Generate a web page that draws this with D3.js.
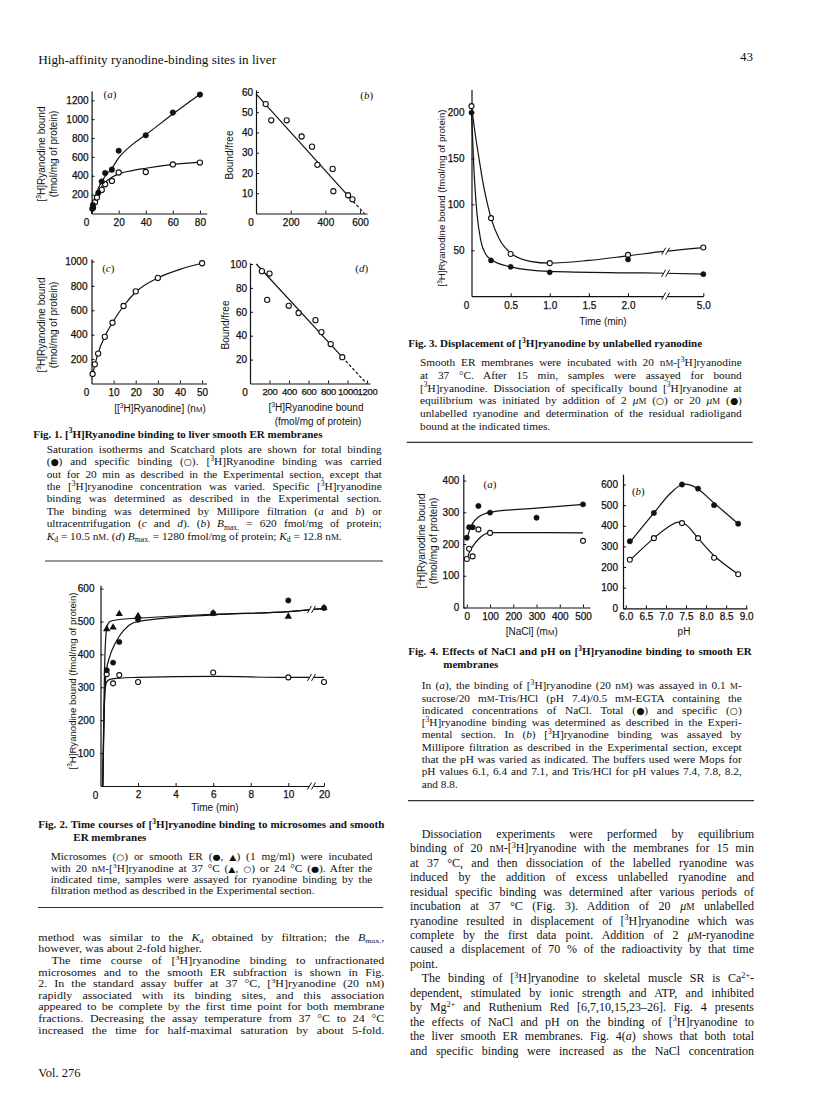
<!DOCTYPE html>
<html>
<head>
<meta charset="utf-8">
<title>High-affinity ryanodine-binding sites in liver</title>
<script src="https://cdn.jsdelivr.net/npm/d3@7"></script>
<style>
  body { margin: 0; background: #fff; }
  svg { display: block; }
</style>
</head>
<body>
<svg id="page" width="816" height="1108"></svg>
<script>
// values, p. 43

// Fig. 1(a) saturation (filtration): [3H]ryanodine nM -> fmol/mg
var f1aTotal = [[0.5,50],[1,90],[5,220],[7.5,340],[10,430],[15,465],[20,665],[40,830],[60,1070],[80,1260]];
var f1aSpecific = [[1,60],[2.5,120],[4,170],[7.5,250],[10,310],[15,345],[20,435],[40,440],[60,520],[80,540]];
var f1aTotalFit = [[0,0],[1,80],[3,190],[6,300],[10,395],[15,480],[20,590],[30,730],[40,835],[60,1055],[80,1265]];
var f1aSpecificFit = [[0,0],[1,60],[3,150],[6,250],[10,330],[15,385],[20,420],[30,455],[40,480],[60,520],[80,545]];
// Fig. 1(b) Scatchard: bound -> bound/free
var f1bPoints = [[56,54],[88,46],[177,46],[263,38],[323,33],[354,24],[442,22],[446,11],[531,9],[556,7]];
var f1bLine = [[0,59],[560,6]];
var f1bExtrap = [[560,6],[625,0]];
// Fig. 1(c) saturation (ultracentrifugation)
var f1cPoints = [[0.5,78],[1.5,157],[3,245],[6,382],[9.5,498],[14.5,635],[20,755],[30,865],[50,985]];
var f1cFit = [[0.5,70],[1.5,150],[3,250],[6,385],[9.5,500],[14.5,635],[20,750],[30,865],[40,935],[50,985]];
// Fig. 1(d) Scatchard
var f1dPoints = [[122,94],[200,92],[176,70],[397,65],[498,59],[671,53],[732,43],[827,33],[946,22]];
var f1dLine = [[65,100],[946,22]];
var f1dExtrap = [[946,22],[1195,0]];

// Fig. 2 time course (min)
var f2Time = [0.33, 0.67, 1, 2, 6, 10, 20];
var f2ErCold = [352, 375, 438, 505, 525, 564, 541];       // smooth ER, 24 C (filled)
var f2ErWarm = [477, 482, 523, 517, 525, 515, 541];       // smooth ER, 37 C (triangle)
var f2Microsomes = [340, 312, 337, 316, 345, 330, 316];   // microsomes, 37 C (open)
var f2ColdFit = [[0.12,0],[0.2,230],[0.3,345],[0.5,395],[0.75,430],[1,455],[1.5,488],[2,500],[6,520],[10,530],[20,540]];
var f2WarmFit = [[0.12,0],[0.18,240],[0.25,420],[0.35,485],[0.5,500],[1,506],[2,510],[6,522],[10,530],[20,540]];
var f2MicroFit = [[0.12,0],[0.17,170],[0.23,280],[0.32,315],[0.5,324],[1,328],[2,330],[6,333],[10,330],[20,330]];
var f2Break = 16.5;

// Fig. 3 displacement
var f3Time = [0, 0.25, 0.5, 1, 2, 5];
var f3Low = [207, 85, 46, 36, 45, 53];    // 2 uM (open)
var f3High = [200, 39, 32, 26, 40, 24];   // 20 uM (filled)
var f3LowFit = [[0,207],[0.05,175],[0.1,148],[0.15,122],[0.2,102],[0.25,85],[0.35,63],[0.5,47],[0.75,38],[1,36],[1.5,39],[2,44],[3.5,49],[5,53]];
var f3HighFit = [[0,200],[0.03,140],[0.07,90],[0.12,60],[0.18,46],[0.25,40],[0.5,32],[1,27],[2,25.5],[3.5,25],[5,24]];
var f3Break = 3.5;

// Fig. 4(a) NaCl (mM)
var f4aTotal = [[0,220],[10,253],[25,253],[50,320],[100,299],[300,283],[500,325]];
var f4aSpecific = [[0,153],[10,185],[25,161],[50,246],[100,235],[500,210]];
var f4aTotalFit = [[0,212],[10,240],[25,265],[50,285],[100,300],[300,313],[500,325]];
var f4aSpecificFit = [[0,150],[10,172],[25,192],[50,215],[100,236],[300,236],[500,235]];
// Fig. 4(b) pH
var f4bPh = [6.1, 6.7, 7.4, 7.8, 8.2, 8.8];
var f4bTotal = [325, 462, 600, 580, 500, 410];
var f4bSpecific = [235, 340, 413, 340, 245, 165];
var f4bTotalFit = [[6.1,320],[6.7,462],[7.1,555],[7.4,600],[7.6,598],[7.8,578],[8.2,510],[8.8,410]];
var f4bSpecificFit = [[6.1,232],[6.7,340],[7.1,400],[7.3,418],[7.5,405],[7.8,340],[8.2,255],[8.8,165]];

var SANS = '"Liberation Sans", Arial, Helvetica, sans-serif';
var SERIF = '"Liberation Serif", "Times New Roman", Times, serif';
var SYMBOL = '"DejaVu Sans", sans-serif';
var INK = '#111';

var svg = d3.select('#page');

// tiny markup: ^{sup} _{sub} /{italic} ${small cap}; key symbols get their own font
function rich(t, str, size) {
  str = str.replace(/([\u25CF\u25CB\u25B2])/g, '#{$1}');
  var re = /([\^_\/\$#])\{([^}]*)\}/g, last = 0, m, parts = [], shift = 0;
  while ((m = re.exec(str)) !== null) {
    if (m.index > last) parts.push({t: str.slice(last, m.index), k: ''});
    parts.push({t: m[2], k: m[1]});
    last = re.lastIndex;
  }
  if (last < str.length) parts.push({t: str.slice(last), k: ''});
  parts.forEach(function(p) {
    var want = p.k == '^' ? -0.38 * size : (p.k == '_' ? 0.22 * size : 0);
    var ts = t.append('tspan').text(p.t);
    if (want != shift) { ts.attr('dy', want - shift); shift = want; }
    if (p.k == '^' || p.k == '_') ts.attr('font-size', size * 0.68);
    if (p.k == '$') ts.attr('font-size', size * 0.78);
    if (p.k == '/') ts.attr('font-style', 'italic');
    if (p.k == '#') ts.attr('font-family', SYMBOL).attr('font-size', size * 0.82);
  });
  return parts.map(function(p) { return p.t; }).join('');
}

function label(g, x, y, str, o) {
  o = o || {};
  var size = o.size || 10;
  var t = g.append('text')
      .attr('font-family', o.serif ? SERIF : SANS)
      .attr('font-size', size)
      .attr('text-anchor', o.anchor || 'middle')
      .attr('fill', INK);
  if (o.rotate) {
    t.attr('transform', 'translate(' + x + ',' + y + ') rotate(-90)').attr('dy', '0.35em');
  } else {
    t.attr('x', x).attr('y', y);
  }
  rich(t, str, size);
  return t;
}

// justified block of text, one <text> per printed line
// sy squashes glyphs vertically where the scan is squashed
function textBlock(b) {
  var sy = b.sy || 1;
  var g = svg.append('g')
      .attr('font-family', SERIF)
      .attr('font-size', b.size)
      .attr('font-weight', b.bold ? 'bold' : null)
      .attr('fill', INK);
  b.lines.forEach(function(line, i) {
    var indent = 0, just = true;
    if (line.charAt(0) == '>') { indent = b.indent; line = line.slice(1); }
    if (line.slice(-1) == '|') { just = false; line = line.slice(0, -1); }
    var t = g.append('text')
        .attr('transform', 'translate(' + (b.x + indent) + ',' + (b.y + i * b.lh) + ') scale(1,' + sy + ')');
    var plain = rich(t, line, b.size);
    if (just && b.width) {
      var spaces = plain.split(' ').length - 1;
      var w = b.width - indent;
      var ws = (w - t.node().getComputedTextLength()) / Math.max(spaces, 1);
      if (ws < -1.5) t.attr('textLength', w).attr('lengthAdjust', 'spacingAndGlyphs');
      else t.attr('word-spacing', ws);
    }
  });
}

function rule(x1, x2, y) {
  svg.append('line').attr('x1', x1).attr('x2', x2).attr('y1', y).attr('y2', y)
      .attr('stroke', '#333').attr('stroke-width', 1.2);
}

function drawAxes(g, x, y, o) {
  var xa = d3.axisBottom(x).tickValues(o.xTicks).tickFormat(o.xFormat || d3.format('d'))
      .tickSize(-3).tickSizeOuter(0).tickPadding(o.xPad || 5);
  var ya = d3.axisLeft(y).tickValues(o.yTicks).tickFormat(d3.format('d'))
      .tickSize(-3).tickSizeOuter(0).tickPadding(o.yPad || 3);
  var gx = g.append('g').attr('transform', 'translate(0,' + y.range()[0] + ')').call(xa);
  var gy = g.append('g').attr('transform', 'translate(' + x.range()[0] + ',0)').call(ya);
  [gx, gy].forEach(function(a) {
    a.attr('font-family', SANS).attr('font-size', 10);
    a.select('.domain').attr('stroke', INK).attr('stroke-width', 1.2);
    a.selectAll('.tick line').attr('stroke', INK);
    a.selectAll('.tick text').attr('fill', INK).attr('stroke', INK).attr('stroke-width', 0.25);
  });
  if (o.xFont) gx.attr('font-size', o.xFont).attr('letter-spacing', -0.3);
  if (o.zero) {
    g.append('text').attr('x', x.range()[0] - 5).attr('y', y.range()[0] + 12.5)
        .attr('text-anchor', 'middle').attr('font-family', SANS).attr('font-size', 10)
        .attr('fill', INK).attr('stroke', INK).attr('stroke-width', 0.25).text('0');
  }
}

function fitLine(g, x, y, pts, o) {
  o = o || {};
  g.append('path').datum(pts)
      .attr('d', d3.line()
        .x(function(d) { return x(d[0]); })
        .y(function(d) { return y(d[1]); })
        .curve(o.curve || d3.curveMonotoneX))
      .attr('fill', 'none').attr('stroke', INK).attr('stroke-width', 1.2)
      .attr('stroke-dasharray', o.dash || null);
}

function marks(g, x, y, pts, kind, r) {
  var sel = g.selectAll(null).data(pts).enter();
  if (kind == 'tri') {
    sel.append('path')
        .attr('d', d3.symbol(d3.symbolTriangle, r * r * 3.2))
        .attr('transform', function(d) { return 'translate(' + x(d[0]) + ',' + y(d[1]) + ')'; })
        .attr('fill', INK);
  } else {
    sel.append('circle')
        .attr('cx', function(d) { return x(d[0]); })
        .attr('cy', function(d) { return y(d[1]); })
        .attr('r', r)
        .attr('fill', kind == 'open' ? '#fff' : INK)
        .attr('stroke', INK).attr('stroke-width', kind == 'open' ? 1.1 : 0.4);
  }
}

// linear read of a fit curve, used to sit the // marks on it
function yAt(pts, t) {
  for (var i = 1; i < pts.length; i++) {
    if (t <= pts[i][0]) {
      var a = pts[i - 1], b = pts[i];
      return a[1] + (b[1] - a[1]) * (t - a[0]) / (b[0] - a[0]);
    }
  }
  return pts[pts.length - 1][1];
}

function breakMark(g, cx, cy) {
  g.append('rect').attr('x', cx - 2.5).attr('y', cy - 4).attr('width', 5).attr('height', 8).attr('fill', '#fff');
  [-2, 2].forEach(function(o) {
    g.append('line')
        .attr('x1', cx + o - 2).attr('y1', cy + 3.5).attr('x2', cx + o + 2).attr('y2', cy - 3.5)
        .attr('stroke', INK).attr('stroke-width', 1);
  });
}

function panelTag(g, x, y, letter) {
  label(g, x, y, '(/{' + letter + '})', {serif: true, size: 11});
}

// ---------- page furniture ----------
label(svg, 38.3, 64, 'High-affinity ryanodine-binding sites in liver', {serif: true, size: 13.2, anchor: 'start'});
label(svg, 753, 61, '43', {serif: true, size: 13, anchor: 'end'});
label(svg, 38.3, 1076.5, 'Vol. 276', {serif: true, size: 12.5, anchor: 'start'});

// ---------- Fig. 1 ----------
var g1 = svg.append('g');

var x1a = d3.scaleLinear().domain([0, 85]).range([91.6, 206.7]);
var y1a = d3.scaleLinear().domain([0, 1300]).range([213.5, 90.9]);
drawAxes(g1, x1a, y1a, {xTicks: [20, 40, 60, 80], yTicks: d3.range(200, 1201, 200), zero: true});
fitLine(g1, x1a, y1a, f1aTotalFit);
fitLine(g1, x1a, y1a, f1aSpecificFit);
marks(g1, x1a, y1a, f1aSpecific, 'open', 2.6);
marks(g1, x1a, y1a, f1aTotal, 'filled', 2.8);
panelTag(g1, 110, 98, 'a');
label(g1, 41, 154, '[^{3}H]Ryanodine bound', {rotate: true});
label(g1, 53.3, 154, '(fmol/mg of protein)', {rotate: true});

var x1b = d3.scaleLinear().domain([0, 640]).range([256, 367]);
var y1b = d3.scaleLinear().domain([0, 61]).range([213.5, 89.9]);
drawAxes(g1, x1b, y1b, {xTicks: [200, 400, 600], yTicks: d3.range(10, 61, 10), zero: true});
fitLine(g1, x1b, y1b, f1bLine, {curve: d3.curveLinear});
fitLine(g1, x1b, y1b, f1bExtrap, {curve: d3.curveLinear, dash: '3,2'});
marks(g1, x1b, y1b, f1bPoints, 'open', 2.6);
panelTag(g1, 366.7, 99, 'b');
label(g1, 229, 155, 'Bound/free', {rotate: true});

var x1c = d3.scaleLinear().domain([0, 52]).range([91.5, 206.5]);
var y1c = d3.scaleLinear().domain([0, 1020]).range([383.5, 259]);
drawAxes(g1, x1c, y1c, {xTicks: [10, 20, 30, 40, 50], yTicks: d3.range(200, 1001, 200), zero: true, yPad: 4});
fitLine(g1, x1c, y1c, f1cFit);
marks(g1, x1c, y1c, f1cPoints, 'open', 2.6);
panelTag(g1, 108.3, 272, 'c');
label(g1, 41, 325, '[^{3}H]Ryanodine bound', {rotate: true});
label(g1, 53.3, 325, '(fmol/mg of protein)', {rotate: true});
label(g1, 160, 411.5, '[[^{3}H]Ryanodine] (n${M})');

var x1d = d3.scaleLinear().domain([0, 1230]).range([250, 370]);
var y1d = d3.scaleLinear().domain([0, 101]).range([383.5, 262.8]);
drawAxes(g1, x1d, y1d, {xTicks: d3.range(200, 1201, 200), yTicks: d3.range(20, 101, 20), zero: true, xFont: 9.5});
fitLine(g1, x1d, y1d, f1dLine, {curve: d3.curveLinear});
fitLine(g1, x1d, y1d, f1dExtrap, {curve: d3.curveLinear, dash: '3,2'});
marks(g1, x1d, y1d, f1dPoints, 'open', 2.6);
panelTag(g1, 361.7, 272, 'd');
label(g1, 225.7, 325, 'Bound/free', {rotate: true});
label(g1, 316, 411, '[^{3}H]Ryanodine bound');
label(g1, 318, 424.5, '(fmol/mg of protein)');

textBlock({x: 33.3, y: 437.5, size: 11, lh: 12, bold: true, lines: [
  'Fig. 1. [^{3}H]Ryanodine binding to liver smooth ER membranes|'
]});
textBlock({x: 46.7, y: 452.8, width: 335, size: 11.3, lh: 12.4, lines: [
  'Saturation isotherms and Scatchard plots are shown for total binding',
  '(\u25CF) and specific binding (\u25CB). [^{3}H]Ryanodine binding was carried',
  'out for 20 min as described in the Experimental section, except that',
  'the [^{3}H]ryanodine concentration was varied. Specific [^{3}H]ryanodine',
  'binding was determined as described in the Experimental section.',
  'The binding was determined by Millipore filtration (/{a} and /{b}) or',
  'ultracentrifugation (/{c} and /{d}). (/{b}) /{B}_{max.} = 620 fmol/mg of protein;',
  '/{K}_{d} = 10.5 n${M}. (/{d}) /{B}_{max.} = 1280 fmol/mg of protein; /{K}_{d} = 12.8 n${M}.|'
]});
rule(45, 383, 561);

// ---------- Fig. 2 ----------
var g2 = svg.append('g');
var x2 = d3.scaleLinear().domain([0, 10, 20]).range([100.5, 288.3, 324]);
var y2 = d3.scaleLinear().domain([0, 610]).range([786, 585.3]);
drawAxes(g2, x2, y2, {xTicks: [2, 4, 6, 8, 10, 20], yTicks: d3.range(100, 601, 100), zero: true, yPad: 6});
fitLine(g2, x2, y2, f2WarmFit);
fitLine(g2, x2, y2, f2ColdFit);
fitLine(g2, x2, y2, f2MicroFit);
breakMark(g2, x2(f2Break), y2(0));
breakMark(g2, x2(f2Break), y2(yAt(f2ColdFit, f2Break)));
breakMark(g2, x2(f2Break), y2(yAt(f2MicroFit, f2Break)));
marks(g2, x2, y2, d3.zip(f2Time, f2Microsomes), 'open', 2.5);
marks(g2, x2, y2, d3.zip(f2Time, f2ErWarm), 'tri', 2.7);
marks(g2, x2, y2, d3.zip(f2Time, f2ErCold), 'filled', 2.7);
label(g2, 72.5, 681, '[^{3}H]Ryanodine bound (fmol/mg of protein)', {rotate: true, size: 9.6});
label(g2, 215, 811, 'Time (min)');

textBlock({x: 38.3, y: 827.8, width: 346, size: 11, lh: 13.4, bold: true, indent: 35, lines: [
  'Fig. 2. Time courses of [^{3}H]ryanodine binding to microsomes and smooth',
  '>ER membranes|'
]});
textBlock({x: 50.7, y: 860.2, width: 321.6, size: 11.3, lh: 11.3, sy: 0.9, lines: [
  'Microsomes (\u25CB) or smooth ER (\u25CF, \u25B2) (1 mg/ml) were incubated',
  'with 20 n${M}-[^{3}H]ryanodine at 37 \u00B0C (\u25B2, \u25CB) or 24 \u00B0C (\u25CF). After the',
  'indicated time, samples were assayed for ryanodine binding by the',
  'filtration method as described in the Experimental section.|'
]});
rule(38, 383, 907.5);

textBlock({x: 38.3, y: 940.8, width: 346, size: 12, lh: 11.6, sy: 0.82, indent: 13.3, lines: [
  'method was similar to the /{K}_{d} obtained by filtration; the /{B}_{max.},',
  'however, was about 2-fold higher.|',
  '>The time course of [^{3}H]ryanodine binding to unfractionated',
  'microsomes and to the smooth ER subfraction is shown in Fig.',
  '2. In the standard assay buffer at 37 \u00B0C, [^{3}H]ryanodine (20 n${M})',
  'rapidly associated with its binding sites, and this association',
  'appeared to be complete by the first time point for both membrane',
  'fractions. Decreasing the assay temperature from 37 \u00B0C to 24 \u00B0C',
  'increased the time for half-maximal saturation by about 5-fold.'
]});

// ---------- Fig. 3 ----------
var g3 = svg.append('g');
var x3 = d3.scaleLinear().domain([0, 2, 5]).range([471.5, 628, 703.3]);
var y3 = d3.scaleLinear().domain([0, 225]).range([296.2, 89.6]);
drawAxes(g3, x3, y3, {xTicks: [0.5, 1, 1.5, 2, 5], xFormat: d3.format('.1f'),
  yTicks: [50, 100, 150, 200], zero: true, yPad: 7, xPad: 6});
fitLine(g3, x3, y3, f3LowFit);
fitLine(g3, x3, y3, f3HighFit);
breakMark(g3, x3(f3Break), y3(0));
breakMark(g3, x3(f3Break), y3(yAt(f3LowFit, f3Break)));
breakMark(g3, x3(f3Break), y3(yAt(f3HighFit, f3Break)));
marks(g3, x3, y3, d3.zip(f3Time, f3Low), 'open', 2.5);
marks(g3, x3, y3, d3.zip(f3Time, f3High), 'filled', 2.6);
label(g3, 442, 198, '[^{3}H]Ryanodine bound (fmol/mg of protein)', {rotate: true, size: 9.6});
label(g3, 603, 325, 'Time (min)');

textBlock({x: 408.3, y: 346.8, size: 11, lh: 12, bold: true, lines: [
  'Fig. 3. Displacement of [^{3}H]ryanodine by unlabelled ryanodine|'
]});
textBlock({x: 420, y: 366.2, width: 321.7, size: 11.3, lh: 12.7, lines: [
  'Smooth ER membranes were incubated with 20 n${M}-[^{3}H]ryanodine',
  'at 37 \u00B0C. After 15 min, samples were assayed for bound',
  '[^{3}H]ryanodine. Dissociation of specifically bound [^{3}H]ryanodine at',
  'equilibrium was initiated by addition of 2 /{\u03BC}${M} (\u25CB) or 20 /{\u03BC}${M} (\u25CF)',
  'unlabelled ryanodine and determination of the residual radioligand',
  'bound at the indicated times.|'
]});
rule(406.7, 752.7, 442.3);

// ---------- Fig. 4 ----------
var g4 = svg.append('g');
var x4a = d3.scaleLinear().domain([-15, 530]).range([463.3, 590]);
var y4a = d3.scaleLinear().domain([0, 420]).range([607.5, 474.2]);
drawAxes(g4, x4a, y4a, {xTicks: d3.range(0, 501, 100), yTicks: d3.range(0, 401, 100), yPad: 4});
fitLine(g4, x4a, y4a, f4aTotalFit);
fitLine(g4, x4a, y4a, f4aSpecificFit);
marks(g4, x4a, y4a, f4aSpecific, 'open', 2.5);
marks(g4, x4a, y4a, f4aTotal, 'filled', 2.7);
panelTag(g4, 490, 488, 'a');
label(g4, 421.7, 541, '[^{3}H]Ryanodine bound', {rotate: true});
label(g4, 433.3, 541, '(fmol/mg of protein)', {rotate: true});
label(g4, 531.7, 634.5, '[NaCl] (m${M})');

var x4b = d3.scaleLinear().domain([5.93, 9.02]).range([623, 747]);
var y4b = d3.scaleLinear().domain([0, 650]).range([608.3, 474.2]);
drawAxes(g4, x4b, y4b, {xTicks: d3.range(6, 9.01, 0.5), xFormat: d3.format('.1f'),
  yTicks: d3.range(0, 601, 100), yPad: 5});
fitLine(g4, x4b, y4b, f4bTotalFit, {curve: d3.curveCatmullRom});
fitLine(g4, x4b, y4b, f4bSpecificFit, {curve: d3.curveCatmullRom});
marks(g4, x4b, y4b, d3.zip(f4bPh, f4bSpecific), 'open', 2.5);
marks(g4, x4b, y4b, d3.zip(f4bPh, f4bTotal), 'filled', 2.7);
panelTag(g4, 638.3, 495, 'b');
label(g4, 684, 634.5, 'pH');

textBlock({x: 408.3, y: 655.2, width: 343.4, size: 11, lh: 12.6, bold: true, indent: 35, lines: [
  'Fig. 4. Effects of NaCl and pH on [^{3}H]ryanodine binding to smooth ER',
  '>membranes|'
]});
textBlock({x: 421.7, y: 689.2, width: 320, size: 11.3, lh: 12.3, lines: [
  'In (/{a}), the binding of [^{3}H]ryanodine (20 n${M}) was assayed in 0.1 ${M}-',
  'sucrose/20 m${M}-Tris/HCl (pH 7.4)/0.5 m${M}-EGTA containing the',
  'indicated concentrations of NaCl. Total (\u25CF) and specific (\u25CB)',
  '[^{3}H]ryanodine binding was determined as described in the Experi-',
  'mental section. In (/{b}) [^{3}H]ryanodine binding was assayed by',
  'Millipore filtration as described in the Experimental section, except',
  'that the pH was varied as indicated. The buffers used were Mops for',
  'pH values 6.1, 6.4 and 7.1, and Tris/HCl for pH values 7.4, 7.8, 8.2,',
  'and 8.8.|'
]});
rule(408, 754, 800.7);

textBlock({x: 410, y: 837.8, width: 344, size: 12, lh: 14.45, indent: 11.7, lines: [
  '>Dissociation experiments were performed by equilibrium',
  'binding of 20 n${M}-[^{3}H]ryanodine with the membranes for 15 min',
  'at 37 \u00B0C, and then dissociation of the labelled ryanodine was',
  'induced by the addition of excess unlabelled ryanodine and',
  'residual specific binding was determined after various periods of',
  'incubation at 37 \u00B0C (Fig. 3). Addition of 20 /{\u03BC}${M} unlabelled',
  'ryanodine resulted in displacement of [^{3}H]ryanodine which was',
  'complete by the first data point. Addition of 2 /{\u03BC}${M}-ryanodine',
  'caused a displacement of 70 % of the radioactivity by that time',
  'point.|',
  '>The binding of [^{3}H]ryanodine to skeletal muscle SR is Ca^{2+}-',
  'dependent, stimulated by ionic strength and ATP, and inhibited',
  'by Mg^{2+} and Ruthenium Red [6,7,10,15,23\u201326]. Fig. 4 presents',
  'the effects of NaCl and pH on the binding of [^{3}H]ryanodine to',
  'the liver smooth ER membranes. Fig. 4(/{a}) shows that both total',
  'and specific binding were increased as the NaCl concentration'
]});
</script>
</body>
</html>
